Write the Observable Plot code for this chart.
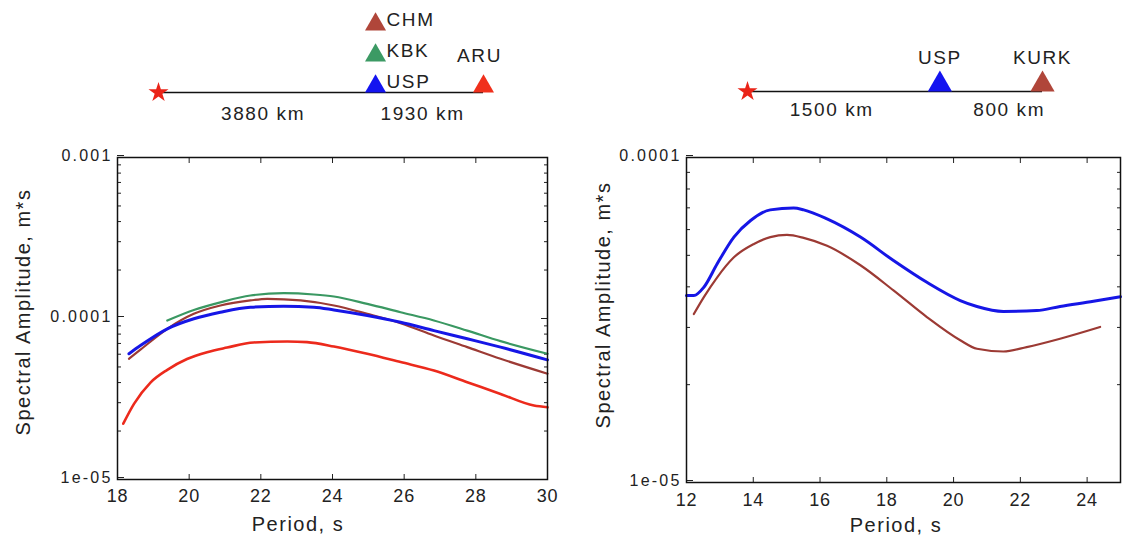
<!DOCTYPE html>
<html><head><meta charset="utf-8">
<script src="https://cdn.jsdelivr.net/npm/d3@7"></script>
<script src="https://cdn.jsdelivr.net/npm/@observablehq/plot@0.6"></script>
<style>
body{margin:0;background:#fff;}
#root{position:relative;width:1125px;height:537px;overflow:hidden;font-family:"Liberation Sans",Arial,sans-serif;background:#fff;}
.box{position:absolute;}
.diag text{letter-spacing:1.6px;}
.spec g[aria-label="y-axis tick label"] text{letter-spacing:2.2px;}
.spec g[aria-label="x-axis tick label"] text{letter-spacing:0.8px;}
.title{position:absolute;font-size:20px;letter-spacing:1.5px;color:#222;white-space:nowrap;line-height:1;transform:translate(-50%,-50%);}
.title.rot{transform:translate(-50%,-50%) rotate(-90deg);}
</style></head><body><div id="root"></div>
<script>
// ---------- Left panel data ----------
const leftXTicks = [18, 20, 22, 24, 26, 28, 30];
const leftYTicks = [1e-5, 1e-4, 1e-3];
const leftYTickLabels = ["1e-05", "0.0001", "0.001"];

const aruPeriod = [18.16, 18.46, 18.92, 19.39, 19.94, 20.5, 21.06, 21.8, 22.74, 23.29, 24.04, 24.97, 25.9, 26.83, 27.76, 28.69, 29.62, 30];
const aruAmp = [2.22e-5, 2.95e-5, 4.0e-5, 4.8e-5, 5.6e-5, 6.18e-5, 6.6e-5, 7.1e-5, 7.2e-5, 7.13e-5, 6.7e-5, 6.04e-5, 5.36e-5, 4.75e-5, 4.02e-5, 3.4e-5, 2.88e-5, 2.81e-5];

const uspPeriod = [18.32, 18.64, 19.39, 20.13, 20.87, 21.71, 22.64, 23.48, 24.04, 24.97, 25.9, 26.83, 27.76, 28.69, 30];
const uspAmp = [6.04e-5, 6.79e-5, 8.63e-5, 9.96e-5, 1.094e-4, 1.175e-4, 1.19e-4, 1.175e-4, 1.13e-4, 1.044e-4, 9.48e-5, 8.41e-5, 7.48e-5, 6.64e-5, 5.53e-5];

const chmPeriod = [18.32, 18.64, 19.39, 20.13, 20.87, 21.71, 22.18, 23.11, 24.04, 24.97, 25.9, 26.83, 27.76, 28.69, 30];
const chmAmp = [5.62e-5, 6.4e-5, 8.63e-5, 1.069e-4, 1.205e-4, 1.295e-4, 1.325e-4, 1.295e-4, 1.205e-4, 1.069e-4, 9.35e-5, 7.84e-5, 6.64e-5, 5.62e-5, 4.54e-5];

const kbkPeriod = [19.39, 20.13, 20.87, 21.71, 22.64, 23.48, 24.04, 24.97, 25.9, 26.83, 27.76, 28.69, 30];
const kbkAmp = [9.72e-5, 1.13e-4, 1.26e-4, 1.39e-4, 1.436e-4, 1.41e-4, 1.37e-4, 1.233e-4, 1.094e-4, 9.72e-5, 8.41e-5, 7.23e-5, 6.04e-5];

// ---------- Right panel data ----------
const rightXTicks = [12, 14, 16, 18, 20, 22, 24];
const rightYTicks = [1e-5, 1e-4];
const rightYTickLabels = ["1e-05", "0.0001"];

const usp2Period = [12.0, 12.22, 12.52, 12.92, 13.42, 13.92, 14.51, 15.21, 15.51, 16.21, 17.21, 18.2, 19.2, 20.2, 20.7, 21.49, 22.49, 23.19, 24.19, 25.0];
const usp2Amp = [3.76e-5, 3.76e-5, 3.99e-5, 4.71e-5, 5.69e-5, 6.4e-5, 6.9e-5, 6.99e-5, 6.9e-5, 6.47e-5, 5.69e-5, 4.82e-5, 4.13e-5, 3.63e-5, 3.48e-5, 3.36e-5, 3.38e-5, 3.48e-5, 3.61e-5, 3.73e-5];

const kurkPeriod = [12.22, 12.52, 12.92, 13.42, 14.02, 14.51, 15.01, 15.51, 16.21, 17.21, 18.2, 19.2, 20.2, 20.7, 21.49, 22.19, 23.19, 24.39];
const kurkAmp = [3.3e-5, 3.72e-5, 4.28e-5, 4.93e-5, 5.42e-5, 5.69e-5, 5.78e-5, 5.66e-5, 5.35e-5, 4.66e-5, 3.9e-5, 3.23e-5, 2.74e-5, 2.58e-5, 2.53e-5, 2.61e-5, 2.77e-5, 3.01e-5];

// ---------- Diagram data ----------
const leftStations = ["USP", "KBK", "CHM", "ARU"];
const leftStationKm = [3880, 3880, 3880, 5810];
const leftDistanceLabels = ["3880 km", "1930 km"];

const rightStations = ["USP", "KURK"];
const rightStationKm = [1500, 2300];
const rightDistanceLabels = ["1500 km", "800 km"];

const colors = {ARU: "#ec2a1c", USP: "#1616e6", CHM: "#9c3a34", KBK: "#3a9862", KURK: "#9c3a34"};
const symbolColors = {ARU: "#f0301c", USP: "#1414f0", CHM: "#b0463a", KBK: "#3c9a64", KURK: "#b0463a"};

const root = document.getElementById("root");

function place(node, left, top, cls) {
  const d = document.createElement("div");
  d.className = "box " + cls;
  d.style.left = left + "px";
  d.style.top = top + "px";
  d.appendChild(node);
  root.appendChild(d);
}

function title(text, cx, cy, rot) {
  const d = document.createElement("div");
  d.className = "title" + (rot ? " rot" : "");
  d.textContent = text;
  d.style.left = cx + "px";
  d.style.top = cy + "px";
  root.appendChild(d);
}

function rowsOf(p, a) { return p.map((x, i) => ({period: x, amp: a[i]})); }

function minorTicks(domain) {
  const out = [];
  const e0 = Math.round(Math.log10(domain[0])), e1 = Math.round(Math.log10(domain[1]));
  for (let e = e0; e < e1; e++) for (let m = 2; m <= 9; m++) out.push(m * Math.pow(10, e));
  return out;
}

function spectrum(o) {
  const minors = minorTicks(o.yDomain);
  const marks = [
    Plot.axisX({anchor: "bottom", ticks: o.xTicks, tickSize: -5, tickPadding: o.xPad, tickFormat: d => String(d), fontSize: 18, label: null}),
    Plot.axisX({anchor: "top", ticks: o.xTicks, tickSize: -5, tickFormat: () => "", label: null}),
    Plot.axisY({anchor: "left", ticks: o.yTicks, tickSize: -7, tickPadding: 12, dy: -2, fontSize: 16,
      tickFormat: d => o.yTickLabels[o.yTicks.indexOf(d)], label: null}),
    Plot.axisY({anchor: "left", ticks: minors, tickSize: -4, tickFormat: () => "", label: null}),
    Plot.axisY({anchor: "right", ticks: o.yTicks, tickSize: -7, tickFormat: () => "", label: null}),
    Plot.axisY({anchor: "right", ticks: minors, tickSize: -4, tickFormat: () => "", label: null}),
  ];
  for (const s of o.series) {
    marks.push(Plot.line(rowsOf(s.period, s.amp), {x: "period", y: "amp", stroke: s.color, strokeWidth: s.width, curve: "monotone-x"}));
  }
  marks.push(Plot.frame({stroke: "#111", strokeWidth: 1.5}));
  return Plot.plot({
    width: o.width, height: o.height,
    marginLeft: o.ml, marginRight: o.mr, marginTop: o.mt, marginBottom: o.mb,
    style: {fontFamily: "Liberation Sans, Arial, sans-serif", color: "#222", background: "transparent", overflow: "visible"},
    x: {domain: o.xDomain},
    y: {type: "log", domain: o.yDomain},
    marks
  });
}

function diagram(o) {
  const stations = o.names.map((n, i) => {
    const row = o.km.slice(0, i).filter(k => k === o.km[i]).length;
    const group = o.km.filter(k => k === o.km[i]).length;
    return {name: n, km: o.km[i], row, stacked: group > 1};
  });
  const stops = [0, ...Array.from(new Set(o.km))];
  const dists = o.distLabels.map((t, i) => ({label: t, mid: (stops[i] + stops[i + 1]) / 2}));
  const maxKm = stops[stops.length - 1];
  return Plot.plot({
    width: o.width, height: o.height, margin: 0,
    style: {fontFamily: "Liberation Sans, Arial, sans-serif", color: "#222", background: "transparent", overflow: "visible"},
    x: {domain: [0, maxKm], range: o.xRange, axis: null},
    y: {domain: [0, 2], range: [o.lineY, o.lineY - 62], axis: null},
    color: {type: "identity"},
    marks: [
      Plot.ruleY([{y: 0, x1: 0, x2: maxKm}], {y: "y", x1: "x1", x2: "x2", stroke: "#111", strokeWidth: 1.6}),
      Plot.dot([{km: 0, row: 0}], {x: "km", y: "row", symbol: "star", r: 6.3, fill: "#ea2418", stroke: "none"}),
      Plot.dot(stations, {x: "km", y: "row", symbol: "triangle", r: o.triR, fill: d => symbolColors[d.name], stroke: "none", dy: o.triDy}),
      Plot.text(stations.filter(d => d.stacked), {x: "km", y: "row", text: "name", textAnchor: "start", dx: 11, dy: -11, fontSize: 19}),
      Plot.text(stations.filter(d => !d.stacked), {x: "km", y: "row", text: "name", dx: o.labelDx, dy: o.labelDy, fontSize: 19}),
      ...dists.map((d, i) => Plot.text([d], {x: "mid", y: () => 0, text: "label", dy: o.distDy, dx: o.distDx[i], fontSize: 19}))
    ]
  });
}

// Diagrams
place(diagram({width: 560, height: 135, xRange: [158, 483], lineY: 92, triR: 7.8, triDy: -6, labelDx: -4, labelDy: -37, distDy: 21, distDx: [-4, -7],
  names: leftStations, km: leftStationKm, distLabels: leftDistanceLabels}), 0, 0, "diag");
place(diagram({width: 565, height: 135, xRange: [190, 485], lineY: 91, triR: 9, triDy: -7, labelDx: 0, labelDy: -34, distDy: 18, distDx: [-12, 18],
  names: rightStations, km: rightStationKm, distLabels: rightDistanceLabels}), 557, 0, "diag");

// Spectra
place(spectrum({width: 570, height: 392, ml: 117, mr: 23, mt: 12, mb: 58, xPad: 15,
  xDomain: [18, 30], xTicks: leftXTicks, yDomain: [1e-5, 1e-3], yTicks: leftYTicks, yTickLabels: leftYTickLabels,
  series: [
    {period: aruPeriod, amp: aruAmp, color: colors.ARU, width: 2.6},
    {period: chmPeriod, amp: chmAmp, color: colors.CHM, width: 2.2},
    {period: kbkPeriod, amp: kbkAmp, color: colors.KBK, width: 2.2},
    {period: uspPeriod, amp: uspAmp, color: colors.USP, width: 3}
  ]}), 0, 145, "spec");

place(spectrum({width: 555, height: 392, ml: 116, mr: 5, mt: 12, mb: 55, xPad: 16,
  xDomain: [12, 25], xTicks: rightXTicks, yDomain: [1e-5, 1e-4], yTicks: rightYTicks, yTickLabels: rightYTickLabels,
  series: [
    {period: kurkPeriod, amp: kurkAmp, color: colors.KURK, width: 2.2},
    {period: usp2Period, amp: usp2Amp, color: colors.USP, width: 3}
  ]}), 570, 145, "spec");

// Axis titles
title("Period, s", 298, 524, false);
title("Period, s", 896, 525, false);
title("Spectral Amplitude, m*s", 23, 312, true);
title("Spectral Amplitude, m*s", 603, 305, true);
</script>
</body></html>
